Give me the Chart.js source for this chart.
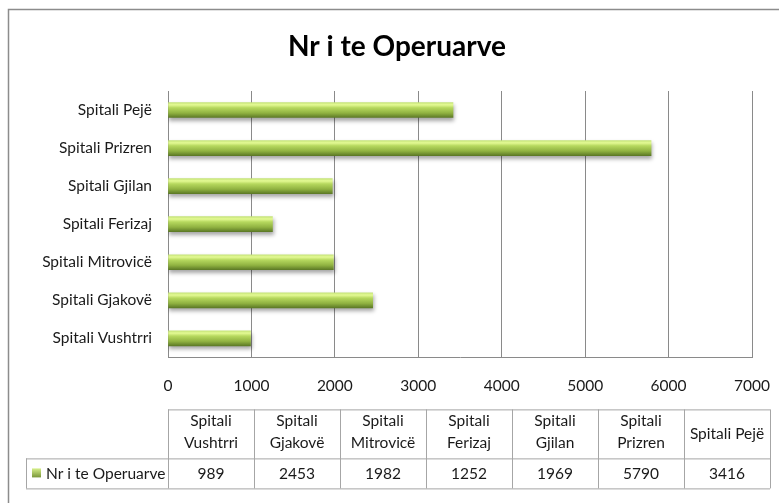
<!DOCTYPE html>
<html>
<head>
<meta charset="utf-8">
<script src="https://cdn.jsdelivr.net/npm/chart.js@4"></script>
<style>
  html, body { margin: 0; padding: 0; background: #fff; }
  #wrap { width: 779px; height: 503px; position: relative; }
</style>
</head>
<body>
<div id="wrap"><canvas id="chart"></canvas></div>
<script>
// data (table order = bottom to top in the chart)
const categories = ["Spitali Vushtrri", "Spitali Gjakovë", "Spitali Mitrovicë", "Spitali Ferizaj", "Spitali Gjilan", "Spitali Prizren", "Spitali Pejë"];
const headerLines = [["Spitali", "Vushtrri"], ["Spitali", "Gjakovë"], ["Spitali", "Mitrovicë"], ["Spitali", "Ferizaj"], ["Spitali", "Gjilan"], ["Spitali", "Prizren"], ["Spitali Pejë"]];
const operated = [989, 2453, 1982, 1252, 1969, 5790, 3416];
const seriesName = "Nr i te Operuarve";
const chartTitle = "Nr i te Operuarve";
const xTicks = [0, 1000, 2000, 3000, 4000, 5000, 6000, 7000];

const FONT = "Lato, 'Open Sans', sans-serif";
const GRID = "#8a8a8a";
const TEXT = "#1a1a1a";
const BAR_H = 15;

function barGradient(context) {
  const chart = context.chart;
  const y = chart.scales.y;
  if (!y || context.dataIndex === undefined) return "#9bbb59";
  const cy = y.getPixelForValue(context.dataIndex);
  if (!isFinite(cy)) return "#9bbb59";
  const g = chart.ctx.createLinearGradient(0, cy - BAR_H / 2, 0, cy + BAR_H / 2);
  g.addColorStop(0, "#c6e47a");
  g.addColorStop(0.15, "#e4fa94");
  g.addColorStop(0.35, "#b6d85e");
  g.addColorStop(0.7, "#90b241");
  g.addColorStop(1, "#5d7a26");
  return g;
}

// frame around the whole chart + title
const framePlugin = {
  id: "frame",
  beforeDraw(chart) {
    const ctx = chart.ctx;
    ctx.save();
    ctx.fillStyle = "#fff";
    ctx.fillRect(0, 0, chart.width, chart.height);
    ctx.strokeStyle = "#8c8c8c";
    ctx.lineWidth = 1.5;
    ctx.strokeRect(8.5, 9.5, chart.width + 20, chart.height + 20);
    ctx.fillStyle = "#000";
    ctx.font = "bold 28px " + FONT;
    ctx.textAlign = "center";
    ctx.textBaseline = "middle";
    ctx.fillText(chartTitle, 397, 47);
    ctx.restore();
  },
};

// soft shadow under the bars
const shadowPlugin = {
  id: "barShadow",
  beforeDatasetDraw(chart) {
    const ctx = chart.ctx;
    ctx.save();
    ctx.shadowColor = "rgba(0,0,0,0.35)";
    ctx.shadowBlur = 4;
    ctx.shadowOffsetY = 3;
    ctx.shadowOffsetX = 1;
  },
  afterDatasetDraw(chart) {
    chart.ctx.restore();
  },
};

// data table under the axis
const tablePlugin = {
  id: "dataTable",
  afterDraw(chart) {
    const ctx = chart.ctx;
    const area = chart.chartArea;
    const left = area.left;
    const right = 770;
    const legendLeft = 26;
    const top = area.bottom + 52;
    const mid = top + 49;
    const bottom = mid + 30;
    const colW = (right - left) / categories.length;

    ctx.save();
    ctx.strokeStyle = "#a6a6a6";
    ctx.lineWidth = 1;
    ctx.beginPath();
    ctx.moveTo(left, top + 0.5); ctx.lineTo(right, top + 0.5);
    ctx.moveTo(legendLeft, mid + 0.5); ctx.lineTo(right, mid + 0.5);
    ctx.moveTo(legendLeft, bottom + 0.5); ctx.lineTo(right, bottom + 0.5);
    ctx.moveTo(legendLeft + 0.5, mid); ctx.lineTo(legendLeft + 0.5, bottom);
    for (let i = 0; i <= categories.length; i++) {
      const x = Math.round(left + i * colW) + 0.5;
      ctx.moveTo(x, top); ctx.lineTo(x, bottom);
    }
    ctx.stroke();

    ctx.fillStyle = TEXT;
    ctx.font = "15.5px " + FONT;
    ctx.textAlign = "center";
    ctx.textBaseline = "middle";
    headerLines.forEach((lines, i) => {
      const cx = left + (i + 0.5) * colW;
      if (lines.length === 1) {
        ctx.fillText(lines[0], cx, (top + mid) / 2);
      } else {
        ctx.fillText(lines[0], cx, top + 12);
        ctx.fillText(lines[1], cx, top + 34);
      }
      ctx.fillText(String(operated[i]), cx, (mid + bottom) / 2 + 1);
    });

    // legend key + series name
    const ky = (mid + bottom) / 2;
    const g = ctx.createLinearGradient(0, ky - 5, 0, ky + 5);
    g.addColorStop(0, "#d6ef8a");
    g.addColorStop(1, "#6f8c30");
    ctx.fillStyle = g;
    ctx.fillRect(32, ky - 5, 9, 9);
    ctx.fillStyle = TEXT;
    ctx.textAlign = "left";
    ctx.fillText(seriesName, 46, ky + 1);
    ctx.restore();
  },
};

const ctx = document.getElementById("chart");
new Chart(ctx, {
  type: "bar",
  data: {
    labels: categories,
    datasets: [
      {
        label: seriesName,
        data: operated,
        backgroundColor: barGradient,
        borderWidth: 0,
        barThickness: BAR_H,
      },
    ],
  },
  options: {
    indexAxis: "y",
    responsive: true,
    maintainAspectRatio: false,
    animation: false,
    layout: { padding: { left: 0, right: 0, top: 91, bottom: 89 } },
    plugins: {
      legend: { display: false },
      tooltip: { enabled: false },
      title: { display: false },
    },
    scales: {
      x: {
        min: 0,
        max: 7000,
        afterBuildTicks(scale) {
          scale.ticks = xTicks.map((v) => ({ value: v }));
        },
        afterFit(scale) {
          scale.paddingRight = 27;
          scale.paddingLeft = 0;
        },
        grid: { color: GRID, drawTicks: false },
        border: { color: GRID },
        ticks: {
          color: TEXT,
          padding: 19,
          maxRotation: 0,
          font: { family: FONT, size: 15.5 },
          callback: (v) => String(v),
        },
      },
      y: {
        reverse: true,
        afterFit(scale) {
          scale.width = 168;
        },
        grid: { display: false, drawTicks: false },
        border: { color: GRID },
        ticks: { color: TEXT, padding: 16, font: { family: FONT, size: 15.5 } },
      },
    },
  },
  plugins: [framePlugin, shadowPlugin, tablePlugin],
});
</script>
</body>
</html>
